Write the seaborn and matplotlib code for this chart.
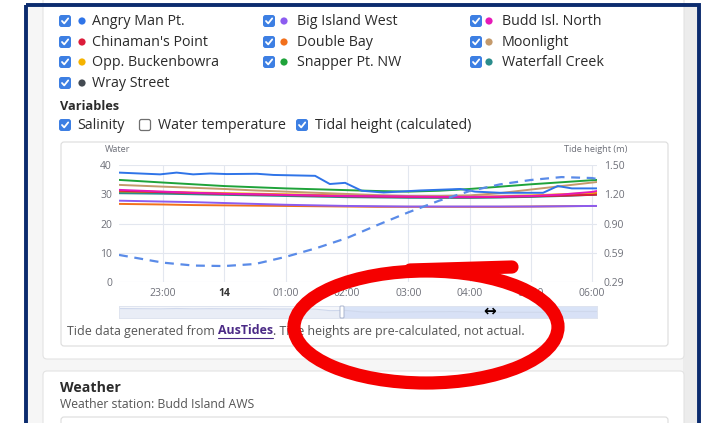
import numpy as np
import pandas as pd
import matplotlib
matplotlib.use("Agg")
import matplotlib.pyplot as plt
from matplotlib.patches import Rectangle, FancyBboxPatch, Ellipse, Circle
from matplotlib.lines import Line2D
from matplotlib.transforms import Affine2D
import seaborn as sns

# --- data ---
stations = ["Angry Man Pt.", "Big Island West", "Budd Isl. North",
            "Chinaman's Point", "Double Bay", "Moonlight",
            "Opp. Buckenbowra", "Snapper Pt. NW", "Waterfall Creek",
            "Wray Street"]
station_colors = ["#2f74e8", "#8c5cf0", "#e619b8",
                  "#dc1c3a", "#f2701c", "#c49a6c",
                  "#f5b300", "#1fa33a", "#2a8c8c",
                  "#434a52"]

# hours after midnight of the 13th (24 = 00:00 on the 14th)
hours = [22.28, 23.0, 23.5, 24.0, 24.5, 25.0, 25.5, 26.0, 26.5,
         27.0, 27.5, 28.0, 28.5, 29.0, 29.5, 30.0, 30.08]

angry_hours = [22.28, 22.95, 23.22, 23.49, 23.77, 24.04, 24.53, 24.8, 25.48,
               25.72, 25.97, 26.24, 26.6, 27.2, 27.85, 28.09, 28.5, 29.2,
               29.44, 29.67, 30.08]
angry_man = [37.4, 36.8, 37.4, 36.8, 37.1, 36.9, 37.0, 36.6, 36.3,
             33.5, 33.9, 31.2, 30.6, 31.3, 31.8, 30.9, 30.5, 30.5,
             32.8, 32.0, 32.0]
big_island = [27.8, 27.5, 27.3, 27.0, 26.7, 26.4, 26.2, 26.0, 25.9,
              25.8, 25.8, 25.8, 25.8, 25.8, 25.9, 26.0, 26.0]
budd_north = [31.5, 30.9, 30.5, 30.2, 30.0, 29.8, 29.6, 29.4, 29.3,
              29.2, 29.1, 29.1, 29.2, 29.4, 29.9, 30.8, 31.1]
chinamans = [31.2, 30.7, 30.4, 30.1, 29.9, 29.7, 29.5, 29.3, 29.2,
             29.1, 29.0, 29.0, 29.1, 29.3, 29.5, 29.8, 29.9]
double_bay = [26.7, 26.5, 26.3, 26.2, 26.1, 26.0, 25.9, 25.8, 25.7,
              25.7, 25.7, 25.7, 25.7, 25.8, 25.9, 26.0, 26.0]
moonlight = [33.2, 32.6, 32.2, 31.8, 31.3, 30.9, 30.5, 30.1, 29.7,
             29.4, 29.4, 29.6, 30.4, 31.6, 32.8, 34.0, 34.2]
opp_buck = [31.0, 30.8, 30.6, 30.4, 30.2, 30.0, 29.8, 29.6, 29.4,
            29.3, 29.2, 29.2, 29.3, 29.6, 30.0, 30.4, 30.5]
snapper = [34.9, 34.0, 33.4, 32.8, 32.4, 32.0, 31.7, 31.4, 31.1,
           30.9, 31.2, 31.8, 32.6, 33.4, 34.1, 34.8, 34.9]
waterfall = [30.4, 30.2, 30.0, 29.8, 29.6, 29.4, 29.2, 29.0, 28.9,
             28.8, 28.8, 28.8, 28.9, 29.1, 29.4, 29.8, 29.9]
wray = [30.7, 30.5, 30.3, 30.1, 29.9, 29.7, 29.5, 29.3, 29.1,
        29.0, 28.9, 28.9, 29.0, 29.3, 29.6, 29.9, 30.0]

tide = [0.57, 0.49, 0.46, 0.455, 0.476, 0.55, 0.64, 0.745, 0.88,
        1.01, 1.13, 1.23, 1.30, 1.345, 1.375, 1.365, 1.355]

hour_ticks = [23, 24, 25, 26, 27, 28, 29, 30]
hour_labels = ["23:00", "14", "01:00", "02:00", "03:00", "04:00", "05:00", "06:00"]
tide_ticks = [0.29, 0.5925, 0.895, 1.1975, 1.50]
tide_labels = ["0.29", "0.59", "0.90", "1.20", "1.50"]

# --- long table for seaborn ---
frames = [pd.DataFrame({"hour": angry_hours, "salinity": angry_man, "station": stations[0]})]
others = [big_island, budd_north, chinamans, double_bay, moonlight,
          opp_buck, snapper, waterfall, wray]
for name, vals in zip(stations[1:], others):
    frames.append(pd.DataFrame({"hour": hours, "salinity": vals, "station": name}))
sal = pd.concat(frames, ignore_index=True)
pal = dict(zip(stations, station_colors))

sns.set_style("white")
plt.rcParams["font.family"] = ["Open Sans", "DejaVu Sans"]

W, H = 710, 423
fig = plt.figure(figsize=(W / 100, H / 100), dpi=100)
fig.patch.set_facecolor("white")
T = Affine2D().scale(1 / W, -1 / H).translate(0, 1) + fig.transFigure


def rect(x0, y0, x1, y1, fc, ec="none", lw=0.8, r=0, z=-5):
    p = FancyBboxPatch((x0, y0), x1 - x0, y1 - y0,
                       boxstyle=f"round,pad=0,rounding_size={r}",
                       fc=fc, ec=ec, lw=lw, transform=T, zorder=z)
    fig.patches.append(p)


def label(x, y, s, **kw):
    kw.setdefault("va", "center")
    kw.setdefault("color", "#2b2b2b")
    return fig.text(x, y, s, transform=T, **kw)


def checkbox(x, y, checked=True):
    if checked:
        rect(x, y - 6, x + 12, y + 6, "#3d7fe3", r=2.5, z=2)
        fig.lines.append(Line2D([x + 3, x + 5.2, x + 9.2], [y, y + 2.4, y - 2.6],
                                color="white", lw=1.3, transform=T, zorder=3))
    else:
        rect(x + 0.5, y - 5.5, x + 11.5, y + 5.5, "white", ec="#6f6f6f", lw=0.9, r=2, z=2)


# page background, frame and cards
rect(26, 5, 699, 430, "#f6f6f6", z=-9)
rect(683, 5, 697, 430, "#ececec", z=-8)
rect(43, -10, 684, 359, "white", ec="#e3e3e3", r=4, z=-7)
rect(43, 371, 684, 440, "white", ec="#e3e3e3", r=4, z=-7)
rect(61, 142, 668, 346, "white", ec="#dcdcdc", r=3, z=-6)
rect(61, 417, 668, 440, "white", ec="#dcdcdc", r=3, z=-6)
fig.patches.append(Rectangle((26, 5), 673, 440, fc="none", ec="#0b2b6e", lw=2.8,
                             transform=T, zorder=20))

# station checkboxes
rows = [21, 42, 62, 83]
cb_x = [59, 263, 470]
dot_x = [82, 284, 489]
txt_x = [92, 297, 502]
fs_ui = 10.3
for i, (name, col) in enumerate(zip(stations, station_colors)):
    r, c = divmod(i, 3)
    y = rows[r]
    checkbox(cb_x[c], y)
    fig.patches.append(Circle((dot_x[c], y), 3.6, fc=col, ec="none", transform=T, zorder=2))
    label(txt_x[c], y + 0.5, name, fontsize=fs_ui)

label(60, 106, "Variables", fontsize=9.2, fontweight="bold")
checkbox(59, 125)
label(77, 125.5, "Salinity", fontsize=fs_ui)
checkbox(139, 125, checked=False)
label(158, 125.5, "Water temperature", fontsize=fs_ui)
checkbox(296, 125)
label(315, 125.5, "Tidal height (calculated)", fontsize=fs_ui)

# --- main chart ---
ax = fig.add_axes([119 / W, 1 - 282 / H, 478 / W, 117 / H])
sns.lineplot(data=sal, x="hour", y="salinity", hue="station", hue_order=stations[::-1],
             palette=pal, estimator=None, sort=True, lw=1.4, legend=False, ax=ax)
ax.set_xlim(22.28, 30.08)
ax.set_ylim(0, 40)
ax.set_yticks([0, 10, 20, 30, 40])
ax.set_xticks(hour_ticks)
ax.set_xticklabels(hour_labels)
ax.grid(True, color="#e3e7ef", lw=0.8)
ax.set_xlabel("")
ax.set_ylabel("")
for s in ax.spines.values():
    s.set_visible(False)
ax.tick_params(length=0, labelsize=7.5, colors="#6e7079")
ax.tick_params(axis="y", pad=5)
ax.tick_params(axis="x", pad=4)
lab14 = ax.get_xticklabels()[1]
lab14.set_fontweight("bold")
lab14.set_color("#333333")

ax2 = ax.twinx()
sns.lineplot(x=hours, y=tide, ax=ax2, color="#5a8be8", lw=1.6, linestyle=(0, (4, 3)))
ax2.set_ylim(0.29, 1.50)
ax2.set_yticks(tide_ticks)
ax2.set_yticklabels(tide_labels)
ax2.grid(False)
for s in ax2.spines.values():
    s.set_visible(False)
ax2.tick_params(length=0, labelsize=7.5, colors="#6e7079", pad=5)

label(118, 150, "Water", fontsize=6.6, ha="center", color="#6e7079")
label(596, 150, "Tide height (m)", fontsize=6.6, ha="center", color="#6e7079")

# --- zoom slider below the chart ---
axs = fig.add_axes([119 / W, 1 - 318 / H, 478 / W, 12 / H])
axs.set_facecolor("#f4f6fb")
sns.lineplot(x=angry_hours, y=angry_man, ax=axs, color="#cfd8ec", lw=0.8)
axs.fill_between(angry_hours, angry_man, 0, color="#e9edf6", lw=0)
axs.set_xlim(22.28, 30.08)
axs.set_ylim(20, 42)
axs.axvspan(25.92, 30.08, color="#d5e0f7", alpha=0.85, lw=0)
axs.set_xticks([])
axs.set_yticks([])
for s in axs.spines.values():
    s.set_color("#dfe4ef")
    s.set_linewidth(0.7)
rect(340, 306, 344, 318, "white", ec="#aab5cf", lw=0.7, r=1, z=6)
label(490, 311, "↔", fontsize=11, ha="center", color="black", fontweight="bold",
      family="DejaVu Sans", zorder=7)

# footer text with the link
fig.canvas.draw()
rend = fig.canvas.get_renderer()
x = 67
for piece, kw in [("Tide data generated from ", {"color": "#555555"}),
                  ("AusTides", {"color": "#4b2a86", "fontweight": "bold"}),
                  (". Tide heights are pre-calculated, not actual.", {"color": "#555555"})]:
    t = label(x, 331, piece, fontsize=8.9, **kw)
    w = t.get_window_extent(rend).width
    if piece == "AusTides":
        fig.lines.append(Line2D([x, x + w], [338.5, 338.5], color="#4b2a86", lw=0.8,
                                transform=T, zorder=3))
    x += w

label(60, 388, "Weather", fontsize=10.2, fontweight="bold")
label(60, 404, "Weather station: Budd Island AWS", fontsize=8.8, color="#555555")

# red hand-drawn ring
fig.patches.append(Ellipse((426, 327), 264, 112, fc="none", ec="#f50000", lw=9.5,
                           transform=T, zorder=15))
fig.lines.append(Line2D([410, 512], [270, 267], color="#f50000", lw=9.5,
                        solid_capstyle="round", transform=T, zorder=15))

fig.savefig("out.png", dpi=100)
